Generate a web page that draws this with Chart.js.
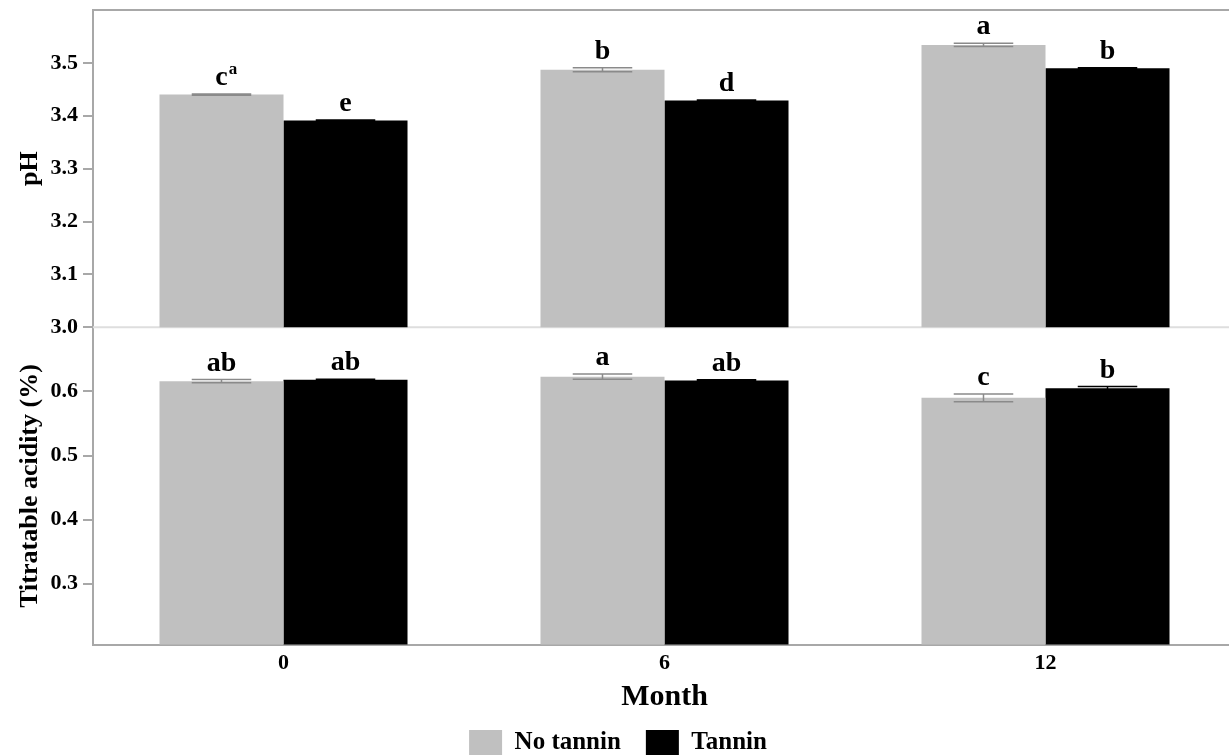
<!DOCTYPE html>
<html lang="en">
<head>
<meta charset="utf-8" />
<title>pH and titratable acidity</title>
<style>
    html,
    body {
        margin: 0;
        padding: 0;
        background: #fff;
        overflow: hidden;
    }

    #wrap {
        width: 1240px;
        height: 765px;
    }
</style>
</head>
<body>
<div id="wrap"><canvas id="chart" width="1240" height="765"></canvas></div>

<script src="https://cdn.jsdelivr.net/npm/chart.js@4.4.3/dist/chart.umd.min.js"></script>
<script>
    const months = ['0', '6', '12'];
    const seriesNames = ['No tannin', 'Tannin'];

    // pH (top panel)
    const phNoTannin = [3.440, 3.487, 3.534];
    const phTannin = [3.391, 3.429, 3.490];
    const phNoTanninSd = [0.001, 0.004, 0.003];
    const phTanninSd = [0.001, 0.001, 0.001];
    const phLettersNoTannin = ['c', 'b', 'a'];
    const phLettersTannin = ['e', 'd', 'b'];
    const phMarkNoTannin = ['a', '', ''];
    const phTicks = [3.0, 3.1, 3.2, 3.3, 3.4, 3.5];

    // titratable acidity, % (bottom panel)
    const taNoTannin = [0.616, 0.623, 0.590];
    const taTannin = [0.618, 0.617, 0.605];
    const taNoTanninSd = [0.0025, 0.004, 0.006];
    const taTanninSd = [0.001, 0.001, 0.0025];
    const taLettersNoTannin = ['ab', 'a', 'c'];
    const taLettersTannin = ['ab', 'ab', 'b'];
    const taTicks = [0.3, 0.4, 0.5, 0.6];

    const grey = '#c0c0c0';
    const black = '#000000';
    const axisGrey = '#a8a8a8';
    const serif = '"Liberation Serif", "Times New Roman", serif';

    Chart.defaults.font.family = serif;
    Chart.defaults.color = '#000';

    // stack ids keep the two panels' bars side by side in the same slots
    function makeSet(label, stack, data, color, yId, sd, letters, marks, errColor) {
        return {
            label: label,
            stack: stack,
            data: data,
            backgroundColor: color,
            borderWidth: 0,
            yAxisID: yId,
            categoryPercentage: 0.651,
            barPercentage: 1.0,
            sd: sd,
            letters: letters,
            marks: marks || [],
            errColor: errColor
        };
    }

    const datasets = [
        makeSet(seriesNames[0], 'none', phNoTannin, grey, 'yPh', phNoTanninSd, phLettersNoTannin, phMarkNoTannin, '#8a8a8a'),
        makeSet(seriesNames[1], 'tannin', phTannin, black, 'yPh', phTanninSd, phLettersTannin, null, '#000'),
        makeSet(seriesNames[0], 'none', taNoTannin, grey, 'yTa', taNoTanninSd, taLettersNoTannin, null, '#8a8a8a'),
        makeSet(seriesNames[1], 'tannin', taTannin, black, 'yTa', taTanninSd, taLettersTannin, null, '#000')
    ];

    // frame lines: top edge and the divider between the two panels
    const framePlugin = {
        id: 'frame',
        beforeDatasetsDraw(chart) {
            const { ctx, chartArea } = chart;
            const yPh = chart.scales.yPh;
            ctx.save();
            ctx.strokeStyle = '#dedede';
            ctx.lineWidth = 2;
            ctx.beginPath();
            ctx.moveTo(chartArea.left, yPh.bottom);
            ctx.lineTo(chartArea.right, yPh.bottom);
            ctx.stroke();
            ctx.strokeStyle = axisGrey;
            ctx.beginPath();
            ctx.moveTo(chartArea.left, chartArea.top);
            ctx.lineTo(chartArea.right, chartArea.top);
            ctx.stroke();
            ctx.restore();
        }
    };

    // error bars and significance letters above each bar
    const errorPlugin = {
        id: 'errorLetters',
        afterDatasetsDraw(chart) {
            const ctx = chart.ctx;
            chart.data.datasets.forEach((ds, i) => {
                const meta = chart.getDatasetMeta(i);
                const yScale = chart.scales[meta.yAxisID];
                meta.data.forEach((bar, j) => {
                    const v = ds.data[j];
                    const sd = ds.sd[j];
                    const yTop = yScale.getPixelForValue(v + sd);
                    const yBot = yScale.getPixelForValue(v - sd);
                    const half = bar.width * 0.24;

                    ctx.save();
                    ctx.strokeStyle = ds.errColor;
                    ctx.lineWidth = 1.5;
                    ctx.beginPath();
                    ctx.moveTo(bar.x, yTop);
                    ctx.lineTo(bar.x, yBot);
                    ctx.moveTo(bar.x - half, yTop);
                    ctx.lineTo(bar.x + half, yTop);
                    ctx.moveTo(bar.x - half, yBot);
                    ctx.lineTo(bar.x + half, yBot);
                    ctx.stroke();

                    const text = ds.letters[j];
                    const ty = yTop - 9;
                    ctx.fillStyle = '#000';
                    ctx.font = 'bold 28px ' + serif;
                    ctx.textAlign = 'center';
                    ctx.textBaseline = 'alphabetic';
                    ctx.fillText(text, bar.x, ty);

                    const mark = ds.marks[j];
                    if (mark) {
                        const w = ctx.measureText(text).width;
                        ctx.font = 'bold 17px ' + serif;
                        ctx.textAlign = 'left';
                        ctx.fillText(mark, bar.x + w / 2 + 1, ty - 11);
                    }
                    ctx.restore();
                });
            });
        }
    };

    function fixedTicks(values) {
        return function (scale) {
            scale.ticks = values.map(v => ({ value: v }));
        };
    }

    function fixWidth(scale) {
        scale.width = 93;
        scale.paddingTop = 0;
        scale.paddingBottom = 0;
    }

    function valueAxis(min, max, ticks, title) {
        return {
            type: 'linear',
            position: 'left',
            stack: 'panels',
            stackWeight: 1,
            min: min,
            max: max,
            afterBuildTicks: fixedTicks(ticks),
            afterFit: fixWidth,
            grid: { drawOnChartArea: false, drawTicks: true, tickLength: 10, tickColor: axisGrey, lineWidth: 2 },
            border: { display: true, color: axisGrey, width: 2 },
            ticks: {
                padding: 5,
                font: { size: 22, weight: 'bold' },
                color: '#000',
                callback: v => v.toFixed(1)
            },
            title: {
                display: true,
                text: title,
                font: { size: 26, weight: 'bold' },
                color: '#000',
                padding: { top: 15, bottom: 0 }
            }
        };
    }

    const config = {
        type: 'bar',
        data: {
            labels: months,
            datasets: datasets
        },
        options: {
            responsive: false,
            animation: false,
            events: [],
            layout: {
                padding: { top: 10, right: 4, left: 0, bottom: 0 }
            },
            plugins: {
                tooltip: { enabled: false },
                legend: {
                    position: 'bottom',
                    labels: {
                        filter: item => item.datasetIndex < 2,
                        font: { size: 25, weight: 'bold', family: serif },
                        color: '#000',
                        boxWidth: 33,
                        boxHeight: 25,
                        padding: 25
                    }
                }
            },
            scales: {
                x: {
                    type: 'category',
                    labels: months,
                    offset: true,
                    grid: { display: false, drawTicks: false },
                    border: { display: true, color: axisGrey, width: 2 },
                    ticks: {
                        padding: 6,
                        font: { size: 22, weight: 'bold' },
                        color: '#000'
                    },
                    title: {
                        display: true,
                        text: 'Month',
                        font: { size: 30, weight: 'bold' },
                        color: '#000',
                        padding: { top: -4, bottom: -10 }
                    }
                },
                // later left-stacked axes are placed higher, so the acidity axis comes first
                yTa: valueAxis(0.205, 0.7, taTicks, 'Titratable acidity (%)'),
                yPh: valueAxis(3.0, 3.6, phTicks, 'pH')
            }
        },
        plugins: [framePlugin, errorPlugin]
    };

    new Chart(document.getElementById('chart'), config);
</script>
</body>
</html>
